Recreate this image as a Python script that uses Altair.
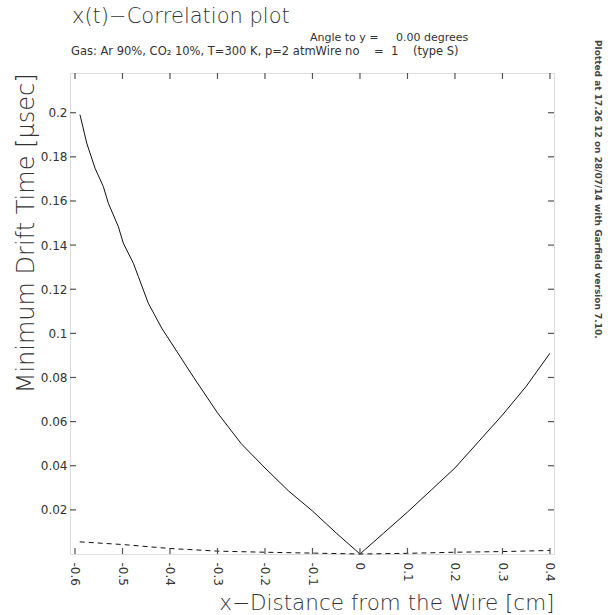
import altair as alt
import pandas as pd

# --- data ---
solid_x = [-0.5895, -0.5754, -0.5579, -0.5404, -0.5298, -0.5088, -0.4983, -0.4772,
           -0.4667, -0.4457, -0.4175, -0.35, -0.30, -0.25, -0.20, -0.15, -0.10, -0.05,
           0.0, 0.05, 0.10, 0.15, 0.20, 0.25, 0.30, 0.35, 0.40]
solid_y = [0.1991, 0.1863, 0.1749, 0.1666, 0.1590, 0.1484, 0.1409, 0.1318,
           0.1258, 0.1137, 0.1024, 0.080, 0.064, 0.050, 0.039, 0.0285, 0.0195, 0.0095,
           0.0, 0.0095, 0.019, 0.029, 0.039, 0.051, 0.063, 0.076, 0.091]
dash_x = [-0.59, -0.5, -0.4, -0.3, -0.2, -0.1, 0.0, 0.1, 0.2, 0.3, 0.4]
dash_y = [0.0055, 0.0043, 0.0025, 0.0013, 0.0008, 0.0004, 0.0, 0.0003, 0.0008, 0.0011, 0.0016]
x_ticks = [-0.6, -0.5, -0.4, -0.3, -0.2, -0.1, 0.0, 0.1, 0.2, 0.3, 0.4]
y_ticks = [0.02, 0.04, 0.06, 0.08, 0.1, 0.12, 0.14, 0.16, 0.18, 0.2]
x_domain = [-0.6105, 0.4085]
y_domain = [0.0, 0.218]

NB = "\u00a0"
title_text = "x(t)\u2212Correlation plot"
angle_text = "Angle to y =" + NB * 5 + "0.00 degrees"
gas_text = ("Gas: Ar 90%, CO\u2082 10%, T=300 K, p=2 atmWire no" + NB * 4 + "=" + NB * 2
            + "1" + NB * 4 + "(type S)")
stamp_text = "Plotted at 17.26 12 on 28/07/14 with Garfield version 7.10."
x_title = "x\u2212Distance from the Wire [cm]"
y_title = "Minimum Drift Time [\u03bcsec]"

W, H = 484, 481
FONT = "DejaVu Sans"
INK = "#333333"

solid = pd.DataFrame({"x": solid_x, "y": solid_y, "i": range(len(solid_x))})
dash = pd.DataFrame({"x": dash_x, "y": dash_y, "i": range(len(dash_x))})
xt = pd.DataFrame({"x": x_ticks})
yt = pd.DataFrame({"y": y_ticks})

xs = alt.Scale(domain=x_domain, nice=False, zero=False)
ys = alt.Scale(domain=y_domain, nice=False, zero=False)

base_x = alt.X("x:Q", scale=xs, axis=alt.Axis(
    values=x_ticks, labelAngle=90, labelAlign="left", labelBaseline="middle",
    labelPadding=8, ticks=False, domain=False, grid=False,
    labelExpr="datum.value == 0 ? '0' : (datum.value < 0 ? '-' : '') + format(abs(datum.value), '.1f')",
    title=x_title, titleAnchor="end", titleAlign="right", titleFontSize=21.5,
    titleFontWeight=200, titleFont=FONT, titleColor=INK, titleX=W, titleY=55,
    titleBaseline="alphabetic", labelFontSize=12, labelColor=INK, labelFont=FONT))
base_y = alt.Y("y:Q", scale=ys, axis=alt.Axis(
    values=y_ticks, ticks=False, domain=False, grid=False, labelPadding=3,
    labelExpr="format(datum.value, '.2~f')",
    labelFontSize=12, labelColor=INK, labelFont=FONT,
    title=y_title, titleAnchor="end", titleAngle=-90,
    titleFontSize=24, titleFontWeight=200, titleFont=FONT, titleColor=INK,
    titleX=-37, titleBaseline="alphabetic"))

line_solid = alt.Chart(solid).mark_line(color="#111111", strokeWidth=1).encode(
    x=base_x, y=base_y, order="i:Q")
line_dash = alt.Chart(dash).mark_line(color="#111111", strokeWidth=1, strokeDash=[5, 4]).encode(
    x=alt.X("x:Q", scale=xs), y=alt.Y("y:Q", scale=ys), order="i:Q")

tk = dict(color="#555555", strokeWidth=1.2)
tick_bottom = alt.Chart(xt).mark_rule(**tk).encode(
    x=alt.X("x:Q", scale=xs), y=alt.value(H - 6), y2=alt.value(H))
tick_top = alt.Chart(xt).mark_rule(**tk).encode(
    x=alt.X("x:Q", scale=xs), y=alt.value(0), y2=alt.value(6))
tick_left = alt.Chart(yt).mark_rule(**tk).encode(
    y=alt.Y("y:Q", scale=ys), x=alt.value(0), x2=alt.value(6))
tick_right = alt.Chart(yt).mark_rule(**tk).encode(
    y=alt.Y("y:Q", scale=ys), x=alt.value(W - 6), x2=alt.value(W))

t_title = alt.Chart(pd.DataFrame({"t": [title_text]})).mark_text(
    align="left", baseline="alphabetic", fontSize=21, fontWeight=200,
    font=FONT, color=INK).encode(text="t:N", x=alt.value(2), y=alt.value(-50))
t_angle = alt.Chart(pd.DataFrame({"t": [angle_text]})).mark_text(
    align="left", baseline="alphabetic", fontSize=11, font=FONT, color=INK).encode(
    text="t:N", x=alt.value(240), y=alt.value(-32))
t_gas = alt.Chart(pd.DataFrame({"t": [gas_text]})).mark_text(
    align="left", baseline="alphabetic", fontSize=11.5, font=FONT, color=INK).encode(
    text="t:N", x=alt.value(1), y=alt.value(-18))
t_stamp = alt.Chart(pd.DataFrame({"t": [stamp_text]})).mark_text(
    align="left", baseline="middle", angle=90, fontSize=9, fontWeight="bold",
    font=FONT, color="#444444").encode(
    text="t:N", x=alt.value(W + 44), y=alt.value(-33))

chart = alt.layer(line_solid, line_dash, tick_bottom, tick_top, tick_left, tick_right,
                  t_title, t_angle, t_gas, t_stamp).properties(
    width=W, height=H,
    autosize=alt.AutoSizeParams(type="none"),
    padding={"left": 70, "top": 73, "right": 54, "bottom": 61},
).configure_view(stroke="#555555", strokeWidth=1.5).configure(background="white")

chart.save("out.html", embed_options={"renderer": "svg", "actions": False})
